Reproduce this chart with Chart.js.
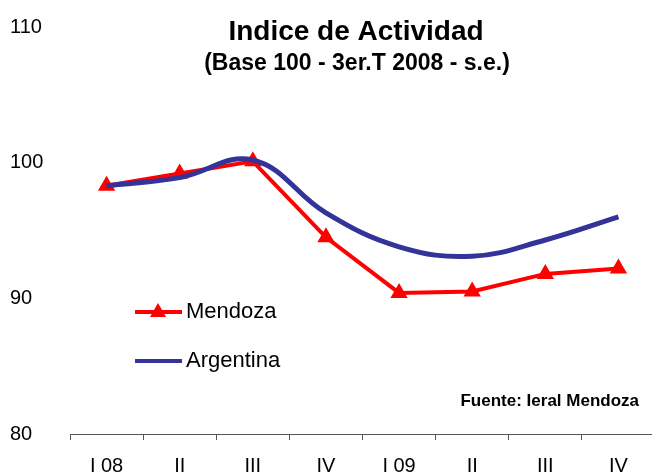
<!DOCTYPE html>
<html>
<head>
<meta charset="utf-8">
<script src="https://cdn.jsdelivr.net/npm/chart.js@4/dist/chart.umd.min.js"></script>
<style>
  html, body { margin: 0; padding: 0; background: #fff; overflow: hidden; }
  #wrap { position: relative; width: 665px; height: 472px; }
</style>
</head>
<body>
<div id="wrap"><canvas id="actividadChart"></canvas></div>
<script>
// data
const quarters = ['I 08', 'II', 'III', 'IV', 'I 09', 'II', 'III', 'IV'];
const mendoza = [98.3, 99.2, 100.1, 94.5, 90.4, 90.5, 91.8, 92.2];
const argentina = [98.3, 98.9, 100.2, 96.3, 93.8, 93.1, 94.3, 96.0];
const yTicks = [80, 90, 100, 110];

const titleText = 'Indice de Actividad';
const subtitleText = '(Base 100 - 3er.T 2008 - s.e.)';
const sourceText = 'Fuente: Ieral Mendoza';

const RED = '#ff0000';
const NAVY = '#333399';

// titles, legend and source are painted inside the plot, like the original
const overlay = {
    id: 'overlay',
    afterDraw(chart) {
        const c = chart.ctx;
        c.save();
        c.fillStyle = '#000';
        c.textBaseline = 'middle';
        c.textAlign = 'center';
        c.font = 'bold 28px "Liberation Sans", Arial, sans-serif';
        c.fillText(titleText, 356, 32);
        c.font = 'bold 23px "Liberation Sans", Arial, sans-serif';
        c.fillText(subtitleText, 357, 64);

        c.textAlign = 'right';
        c.font = 'bold 17px "Liberation Sans", Arial, sans-serif';
        c.fillText(sourceText, 639, 401);

        // legend
        c.textAlign = 'left';
        c.font = '22px "Liberation Sans", Arial, sans-serif';
        c.lineWidth = 4;
        c.strokeStyle = RED;
        c.beginPath(); c.moveTo(135, 312); c.lineTo(182, 312); c.stroke();
        c.fillStyle = RED;
        c.beginPath();
        c.moveTo(158, 303); c.lineTo(166, 317); c.lineTo(150, 317); c.closePath();
        c.fill();
        c.strokeStyle = NAVY;
        c.beginPath(); c.moveTo(135, 361); c.lineTo(182, 361); c.stroke();
        c.fillStyle = '#000';
        c.fillText('Mendoza', 186, 312);
        c.fillText('Argentina', 186, 361);
        c.restore();
    }
};

const ctx = document.getElementById('actividadChart').getContext('2d');
new Chart(ctx, {
    type: 'line',
    data: {
        labels: quarters,
        datasets: [
            {
                label: 'Argentina',
                data: argentina,
                borderColor: NAVY,
                borderWidth: 5,
                pointRadius: 0,
                tension: 0.4,
                fill: false
            },
            {
                label: 'Mendoza',
                data: mendoza,
                borderColor: RED,
                backgroundColor: RED,
                borderWidth: 4,
                pointStyle: 'triangle',
                pointRadius: 10,
                pointBorderWidth: 0,
                tension: 0,
                fill: false
            }
        ]
    },
    options: {
        responsive: true,
        maintainAspectRatio: false,
        animation: false,
        layout: { padding: { top: 27, right: 1, bottom: 0, left: 10 } },
        plugins: {
            legend: { display: false },
            tooltip: { enabled: false }
        },
        scales: {
            x: {
                offset: true,
                grid: {
                    offset: true,
                    drawOnChartArea: false,
                    drawTicks: true,
                    tickLength: 6,
                    color: '#555'
                },
                border: { display: true, color: '#555', width: 1 },
                ticks: {
                    color: '#000',
                    padding: 14,
                    maxRotation: 0,
                    autoSkip: false,
                    font: { family: '"Liberation Sans Narrow", "Liberation Sans", Arial, sans-serif', size: 20 }
                },
                afterFit(scale) { scale.height = 38; }
            },
            y: {
                min: 80,
                max: 110,
                grid: { display: false },
                border: { display: false },
                afterBuildTicks(scale) { scale.ticks = yTicks.map(v => ({ value: v })); },
                ticks: {
                    color: '#000',
                    padding: 0,
                    crossAlign: 'far',
                    font: { family: '"Liberation Sans", Arial, sans-serif', size: 20 }
                },
                afterFit(scale) { scale.width = 60; }
            }
        }
    },
    plugins: [overlay]
});
</script>
</body>
</html>
